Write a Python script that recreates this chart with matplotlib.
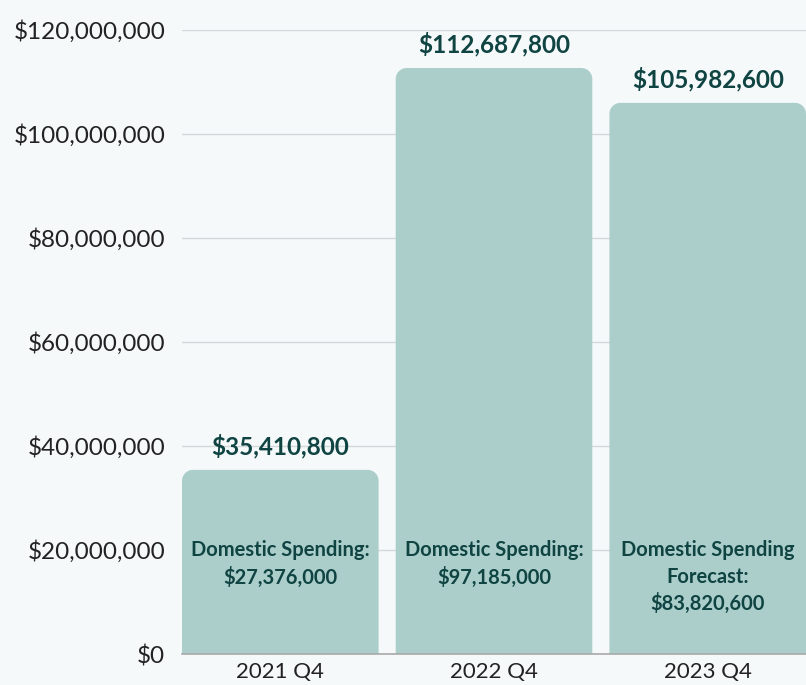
import numpy as np
import matplotlib
matplotlib.use("Agg")
import matplotlib.pyplot as plt
from matplotlib.patches import PathPatch
from matplotlib.path import Path
from matplotlib.ticker import FuncFormatter

# data
quarters = ["2021 Q4", "2022 Q4", "2023 Q4"]
totals = [35410800, 112687800, 105982600]
inner_labels = ["Domestic Spending:\n$27,376,000",
                "Domestic Spending:\n$97,185,000",
                "Domestic Spending\nForecast:\n$83,820,600"]
yticks = [0, 20000000, 40000000, 60000000, 80000000, 100000000, 120000000]

bg = "#f5f9fa"
bar_col = "#abcecb"
txt_col = "#0f4442"

plt.rcParams['font.family'] = ['Lato', 'DejaVu Sans']

fig = plt.figure(figsize=(8.06, 6.85), dpi=100, facecolor=bg)
ax = fig.add_axes([182/806, 1-654/685, 1-182/806, (654-30)/685])
ax.set_facecolor(bg)

w = 0.92
ax.set_xlim(-w/2, 2 + w/2)
ax.set_ylim(0, 120000000)

# corner radius of ~11 px in both directions
rx = 11/214.0
ry = 11*120000000/624.0
k = 0.5523

def top_rounded_bar(x0, x1, h):
    verts = [(x0, 0), (x0, h - ry),
             (x0, h - ry + k*ry), (x0 + rx - k*rx, h), (x0 + rx, h),
             (x1 - rx, h),
             (x1 - rx + k*rx, h), (x1, h - ry + k*ry), (x1, h - ry),
             (x1, 0), (x0, 0)]
    codes = [Path.MOVETO, Path.LINETO,
             Path.CURVE4, Path.CURVE4, Path.CURVE4,
             Path.LINETO,
             Path.CURVE4, Path.CURVE4, Path.CURVE4,
             Path.LINETO, Path.CLOSEPOLY]
    return Path(verts, codes)

for i, v in enumerate(totals):
    ax.add_patch(PathPatch(top_rounded_bar(i - w/2, i + w/2, v),
                           fc=bar_col, ec="none", zorder=2))
    ax.annotate("${:,.0f}".format(v), (i, v), xytext=(0, 11), textcoords="offset points",
                ha="center", va="baseline", fontsize=17.5, fontweight="bold",
                color=txt_col, zorder=3)
    ax.text(i, 21900000, inner_labels[i], ha="center", va="top", fontsize=14.5,
            fontweight="bold", color=txt_col, linespacing=1.4, zorder=3)

ax.set_yticks(yticks)
ax.yaxis.set_major_formatter(FuncFormatter(lambda v, p: "${:,.0f}".format(v)))
ax.set_xticks(range(len(quarters)))
ax.set_xticklabels(quarters)
ax.tick_params(axis="y", length=0, pad=12, labelsize=17.5, labelcolor="#222222")
ax.tick_params(axis="x", length=0, pad=6, labelsize=16, labelcolor="#222222")
ax.grid(axis="y", color="#d3d8da", lw=1, zorder=0)
ax.set_axisbelow(True)
for s in ["top", "right", "left"]:
    ax.spines[s].set_visible(False)
ax.spines["bottom"].set_color("#a9a9a9")
ax.spines["bottom"].set_linewidth(1.2)

fig.savefig("out.png", dpi=100, facecolor=bg)
